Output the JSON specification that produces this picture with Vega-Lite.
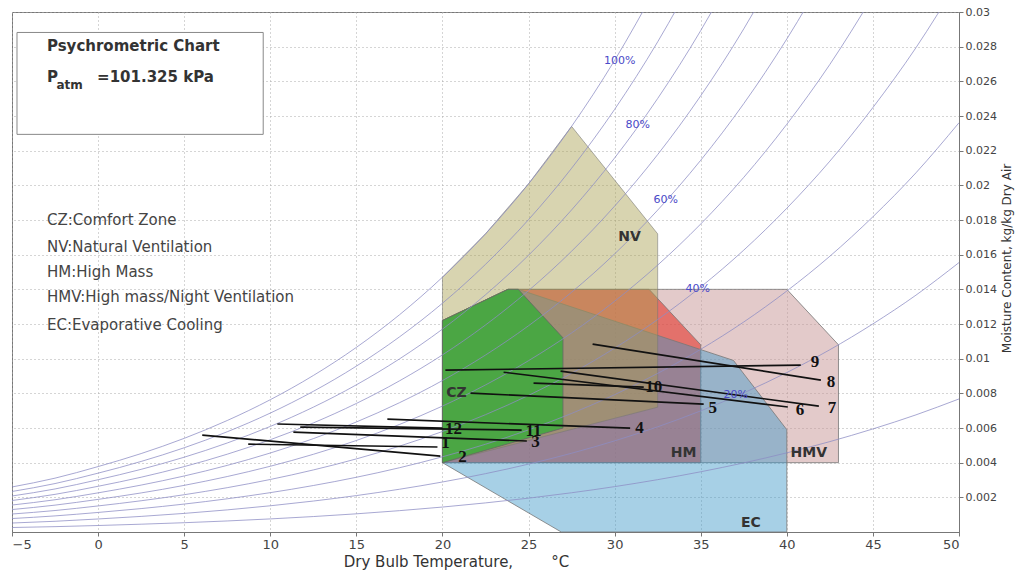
{
  "$schema": "https://vega.github.io/schema/vega-lite/v6.json",
  "width": 947,
  "height": 520,
  "autosize": {"type": "none"},
  "padding": {"left": 12, "top": 12, "right": 60, "bottom": 42},
  "background": "white",
  "config": {
    "font": "DejaVu Sans",
    "view": {"stroke": "#777", "strokeWidth": 1}
  },
  "datasets": {
    "zones": [
      {"z": "HMV", "i": 0, "t": 20, "w": 0.004}, {"z": "HMV", "i": 1, "t": 20, "w": 0.0122}, {"z": "HMV", "i": 2, "t": 23.8, "w": 0.014}, {"z": "HMV", "i": 3, "t": 40, "w": 0.014}, {"z": "HMV", "i": 4, "t": 43, "w": 0.0108}, {"z": "HMV", "i": 5, "t": 43, "w": 0.004}, {"z": "HMV", "i": 6, "t": 20, "w": 0.004},
      {"z": "HM", "i": 0, "t": 20, "w": 0.004}, {"z": "HM", "i": 1, "t": 20, "w": 0.0122}, {"z": "HM", "i": 2, "t": 23.8, "w": 0.014}, {"z": "HM", "i": 3, "t": 32, "w": 0.014}, {"z": "HM", "i": 4, "t": 35, "w": 0.0108}, {"z": "HM", "i": 5, "t": 35, "w": 0.004}, {"z": "HM", "i": 6, "t": 20, "w": 0.004},
      {"z": "EC", "i": 0, "t": 20, "w": 0.004}, {"z": "EC", "i": 1, "t": 20, "w": 0.0122}, {"z": "EC", "i": 2, "t": 23.8, "w": 0.014}, {"z": "EC", "i": 3, "t": 24.4, "w": 0.014}, {"z": "EC", "i": 4, "t": 36.9, "w": 0.0099}, {"z": "EC", "i": 5, "t": 40, "w": 0.0059}, {"z": "EC", "i": 6, "t": 40, "w": 0}, {"z": "EC", "i": 7, "t": 26.9, "w": 0}, {"z": "EC", "i": 8, "t": 20, "w": 0.004},
      {"z": "NV", "i": 0, "t": 20, "w": 0.004}, {"z": "NV", "i": 1, "t": 20, "w": 0.014699}, {"z": "NV", "i": 2, "t": 22.5, "w": 0.017203}, {"z": "NV", "i": 3, "t": 25, "w": 0.020087}, {"z": "NV", "i": 4, "t": 27.5, "w": 0.023402}, {"z": "NV", "i": 5, "t": 32.5, "w": 0.0172}, {"z": "NV", "i": 6, "t": 32.5, "w": 0.0072}, {"z": "NV", "i": 7, "t": 20, "w": 0.004},
      {"z": "CZ", "i": 0, "t": 20, "w": 0.004}, {"z": "CZ", "i": 1, "t": 20, "w": 0.0122}, {"z": "CZ", "i": 2, "t": 23.8, "w": 0.014}, {"z": "CZ", "i": 3, "t": 24.4, "w": 0.014}, {"z": "CZ", "i": 4, "t": 27, "w": 0.0112}, {"z": "CZ", "i": 5, "t": 27, "w": 0.006}, {"z": "CZ", "i": 6, "t": 20, "w": 0.004}
    ],
    "rh": [
      {"rh": 10, "t": -5, "w": 0.000259}, {"rh": 10, "t": -2.5, "w": 0.000309}, {"rh": 10, "t": 0, "w": 0.000375}, {"rh": 10, "t": 2.5, "w": 0.00045}, {"rh": 10, "t": 5, "w": 0.000536}, {"rh": 10, "t": 7.5, "w": 0.000637}, {"rh": 10, "t": 10, "w": 0.000755}, {"rh": 10, "t": 12.5, "w": 0.000891}, {"rh": 10, "t": 15, "w": 0.001049}, {"rh": 10, "t": 17.5, "w": 0.001231}, {"rh": 10, "t": 20, "w": 0.001439}, {"rh": 10, "t": 22.5, "w": 0.001679}, {"rh": 10, "t": 25, "w": 0.001952}, {"rh": 10, "t": 27.5, "w": 0.002264}, {"rh": 10, "t": 30, "w": 0.002618}, {"rh": 10, "t": 32.5, "w": 0.00302}, {"rh": 10, "t": 35, "w": 0.003475}, {"rh": 10, "t": 37.5, "w": 0.003987}, {"rh": 10, "t": 40, "w": 0.004567}, {"rh": 10, "t": 42.5, "w": 0.005215}, {"rh": 10, "t": 45, "w": 0.005946}, {"rh": 10, "t": 47.5, "w": 0.006758}, {"rh": 10, "t": 50, "w": 0.007676},
      {"rh": 20, "t": -5, "w": 0.000518}, {"rh": 20, "t": -2.5, "w": 0.000619}, {"rh": 20, "t": 0, "w": 0.000751}, {"rh": 20, "t": 2.5, "w": 0.0009}, {"rh": 20, "t": 5, "w": 0.001073}, {"rh": 20, "t": 7.5, "w": 0.001276}, {"rh": 20, "t": 10, "w": 0.001512}, {"rh": 20, "t": 12.5, "w": 0.001785}, {"rh": 20, "t": 15, "w": 0.002101}, {"rh": 20, "t": 17.5, "w": 0.002466}, {"rh": 20, "t": 20, "w": 0.002885}, {"rh": 20, "t": 22.5, "w": 0.003366}, {"rh": 20, "t": 25, "w": 0.003916}, {"rh": 20, "t": 27.5, "w": 0.004544}, {"rh": 20, "t": 30, "w": 0.005258}, {"rh": 20, "t": 32.5, "w": 0.00607}, {"rh": 20, "t": 35, "w": 0.006989}, {"rh": 20, "t": 37.5, "w": 0.008026}, {"rh": 20, "t": 40, "w": 0.009201}, {"rh": 20, "t": 42.5, "w": 0.010517}, {"rh": 20, "t": 45, "w": 0.012007}, {"rh": 20, "t": 47.5, "w": 0.013664}, {"rh": 20, "t": 50, "w": 0.015544},
      {"rh": 30, "t": -5, "w": 0.000777}, {"rh": 30, "t": -2.5, "w": 0.000929}, {"rh": 30, "t": 0, "w": 0.001128}, {"rh": 30, "t": 2.5, "w": 0.001351}, {"rh": 30, "t": 5, "w": 0.001611}, {"rh": 30, "t": 7.5, "w": 0.001916}, {"rh": 30, "t": 10, "w": 0.00227}, {"rh": 30, "t": 12.5, "w": 0.002681}, {"rh": 30, "t": 15, "w": 0.003157}, {"rh": 30, "t": 17.5, "w": 0.003706}, {"rh": 30, "t": 20, "w": 0.004338}, {"rh": 30, "t": 22.5, "w": 0.005063}, {"rh": 30, "t": 25, "w": 0.005893}, {"rh": 30, "t": 27.5, "w": 0.00684}, {"rh": 30, "t": 30, "w": 0.007921}, {"rh": 30, "t": 32.5, "w": 0.009149}, {"rh": 30, "t": 35, "w": 0.010542}, {"rh": 30, "t": 37.5, "w": 0.012117}, {"rh": 30, "t": 40, "w": 0.013904}, {"rh": 30, "t": 42.5, "w": 0.01591}, {"rh": 30, "t": 45, "w": 0.018187}, {"rh": 30, "t": 47.5, "w": 0.020723}, {"rh": 30, "t": 50, "w": 0.023611},
      {"rh": 40, "t": -5, "w": 0.001037}, {"rh": 40, "t": -2.5, "w": 0.001239}, {"rh": 40, "t": 0, "w": 0.001504}, {"rh": 40, "t": 2.5, "w": 0.001802}, {"rh": 40, "t": 5, "w": 0.00215}, {"rh": 40, "t": 7.5, "w": 0.002557}, {"rh": 40, "t": 10, "w": 0.00303}, {"rh": 40, "t": 12.5, "w": 0.00358}, {"rh": 40, "t": 15, "w": 0.004217}, {"rh": 40, "t": 17.5, "w": 0.004952}, {"rh": 40, "t": 20, "w": 0.005798}, {"rh": 40, "t": 22.5, "w": 0.006769}, {"rh": 40, "t": 25, "w": 0.007882}, {"rh": 40, "t": 27.5, "w": 0.009154}, {"rh": 40, "t": 30, "w": 0.010606}, {"rh": 40, "t": 32.5, "w": 0.012259}, {"rh": 40, "t": 35, "w": 0.014136}, {"rh": 40, "t": 37.5, "w": 0.016262}, {"rh": 40, "t": 40, "w": 0.018678}, {"rh": 40, "t": 42.5, "w": 0.021396}, {"rh": 40, "t": 45, "w": 0.024488}, {"rh": 40, "t": 47.5, "w": 0.027941}, {"rh": 40, "t": 50, "w": 0.031885},
      {"rh": 50, "t": -5, "w": 0.001296}, {"rh": 50, "t": -2.5, "w": 0.00155}, {"rh": 50, "t": 0, "w": 0.001882}, {"rh": 50, "t": 2.5, "w": 0.002254}, {"rh": 50, "t": 5, "w": 0.00269}, {"rh": 50, "t": 7.5, "w": 0.0032}, {"rh": 50, "t": 10, "w": 0.003793}, {"rh": 50, "t": 12.5, "w": 0.004482}, {"rh": 50, "t": 15, "w": 0.00528}, {"rh": 50, "t": 17.5, "w": 0.006202}, {"rh": 50, "t": 20, "w": 0.007264}, {"rh": 50, "t": 22.5, "w": 0.008484}, {"rh": 50, "t": 25, "w": 0.009884}, {"rh": 50, "t": 27.5, "w": 0.011485}, {"rh": 50, "t": 30, "w": 0.013315}, {"rh": 50, "t": 32.5, "w": 0.015399}, {"rh": 50, "t": 35, "w": 0.017771}, {"rh": 50, "t": 37.5, "w": 0.020461}, {"rh": 50, "t": 40, "w": 0.023524}, {"rh": 50, "t": 42.5, "w": 0.026977}, {"rh": 50, "t": 45, "w": 0.030914},
      {"rh": 60, "t": -5, "w": 0.001556}, {"rh": 60, "t": -2.5, "w": 0.00186}, {"rh": 60, "t": 0, "w": 0.002259}, {"rh": 60, "t": 2.5, "w": 0.002707}, {"rh": 60, "t": 5, "w": 0.003231}, {"rh": 60, "t": 7.5, "w": 0.003843}, {"rh": 60, "t": 10, "w": 0.004557}, {"rh": 60, "t": 12.5, "w": 0.005386}, {"rh": 60, "t": 15, "w": 0.006347}, {"rh": 60, "t": 17.5, "w": 0.007457}, {"rh": 60, "t": 20, "w": 0.008737}, {"rh": 60, "t": 22.5, "w": 0.010209}, {"rh": 60, "t": 25, "w": 0.011899}, {"rh": 60, "t": 27.5, "w": 0.013833}, {"rh": 60, "t": 30, "w": 0.016046}, {"rh": 60, "t": 32.5, "w": 0.018571}, {"rh": 60, "t": 35, "w": 0.021448}, {"rh": 60, "t": 37.5, "w": 0.024716}, {"rh": 60, "t": 40, "w": 0.028444}, {"rh": 60, "t": 42.5, "w": 0.032656},
      {"rh": 70, "t": -5, "w": 0.001817}, {"rh": 70, "t": -2.5, "w": 0.002172}, {"rh": 70, "t": 0, "w": 0.002637}, {"rh": 70, "t": 2.5, "w": 0.003161}, {"rh": 70, "t": 5, "w": 0.003772}, {"rh": 70, "t": 7.5, "w": 0.004489}, {"rh": 70, "t": 10, "w": 0.005323}, {"rh": 70, "t": 12.5, "w": 0.006292}, {"rh": 70, "t": 15, "w": 0.007417}, {"rh": 70, "t": 17.5, "w": 0.008718}, {"rh": 70, "t": 20, "w": 0.010217}, {"rh": 70, "t": 22.5, "w": 0.011943}, {"rh": 70, "t": 25, "w": 0.013926}, {"rh": 70, "t": 27.5, "w": 0.016199}, {"rh": 70, "t": 30, "w": 0.018801}, {"rh": 70, "t": 32.5, "w": 0.021775}, {"rh": 70, "t": 35, "w": 0.025167}, {"rh": 70, "t": 37.5, "w": 0.029028}, {"rh": 70, "t": 40, "w": 0.03344},
      {"rh": 80, "t": -5, "w": 0.002077}, {"rh": 80, "t": -2.5, "w": 0.002483}, {"rh": 80, "t": 0, "w": 0.003016}, {"rh": 80, "t": 2.5, "w": 0.003615}, {"rh": 80, "t": 5, "w": 0.004315}, {"rh": 80, "t": 7.5, "w": 0.005135}, {"rh": 80, "t": 10, "w": 0.006091}, {"rh": 80, "t": 12.5, "w": 0.007202}, {"rh": 80, "t": 15, "w": 0.008491}, {"rh": 80, "t": 17.5, "w": 0.009983}, {"rh": 80, "t": 20, "w": 0.011704}, {"rh": 80, "t": 22.5, "w": 0.013687}, {"rh": 80, "t": 25, "w": 0.015967}, {"rh": 80, "t": 27.5, "w": 0.018582}, {"rh": 80, "t": 30, "w": 0.021581}, {"rh": 80, "t": 32.5, "w": 0.025011}, {"rh": 80, "t": 35, "w": 0.02893}, {"rh": 80, "t": 37.5, "w": 0.033397},
      {"rh": 90, "t": -5, "w": 0.002337}, {"rh": 90, "t": -2.5, "w": 0.002795}, {"rh": 90, "t": 0, "w": 0.003395}, {"rh": 90, "t": 2.5, "w": 0.00407}, {"rh": 90, "t": 5, "w": 0.004859}, {"rh": 90, "t": 7.5, "w": 0.005783}, {"rh": 90, "t": 10, "w": 0.00686}, {"rh": 90, "t": 12.5, "w": 0.008114}, {"rh": 90, "t": 15, "w": 0.009569}, {"rh": 90, "t": 17.5, "w": 0.011253}, {"rh": 90, "t": 20, "w": 0.013198}, {"rh": 90, "t": 22.5, "w": 0.01544}, {"rh": 90, "t": 25, "w": 0.018021}, {"rh": 90, "t": 27.5, "w": 0.020983}, {"rh": 90, "t": 30, "w": 0.024383}, {"rh": 90, "t": 32.5, "w": 0.028279}, {"rh": 90, "t": 35, "w": 0.032736},
      {"rh": 100, "t": -5, "w": 0.002598}, {"rh": 100, "t": -2.5, "w": 0.003107}, {"rh": 100, "t": 0, "w": 0.003775}, {"rh": 100, "t": 2.5, "w": 0.004525}, {"rh": 100, "t": 5, "w": 0.005403}, {"rh": 100, "t": 7.5, "w": 0.006432}, {"rh": 100, "t": 10, "w": 0.007632}, {"rh": 100, "t": 12.5, "w": 0.009028}, {"rh": 100, "t": 15, "w": 0.010651}, {"rh": 100, "t": 17.5, "w": 0.012529}, {"rh": 100, "t": 20, "w": 0.014699}, {"rh": 100, "t": 22.5, "w": 0.017203}, {"rh": 100, "t": 25, "w": 0.020087}, {"rh": 100, "t": 27.5, "w": 0.023402}, {"rh": 100, "t": 30, "w": 0.027212}, {"rh": 100, "t": 32.5, "w": 0.031581}
    ],
    "paths": [
      {"id": "1", "t": 8.72, "w": 0.00507}, {"id": "1", "t": 19.71, "w": 0.0049},
      {"id": "2", "t": 6.05, "w": 0.00559}, {"id": "2", "t": 19.88, "w": 0.00438},
      {"id": "3", "t": 11.34, "w": 0.00576}, {"id": "3", "t": 24.9, "w": 0.00525},
      {"id": "11", "t": 11.74, "w": 0.00605}, {"id": "11", "t": 24.6, "w": 0.00588},
      {"id": "12", "t": 10.41, "w": 0.00623}, {"id": "12", "t": 20.0, "w": 0.00599},
      {"id": "4", "t": 16.8, "w": 0.00651}, {"id": "4", "t": 30.9, "w": 0.00599},
      {"id": "5", "t": 21.63, "w": 0.00801}, {"id": "5", "t": 35.17, "w": 0.00738},
      {"id": "10", "t": 25.29, "w": 0.00859}, {"id": "10", "t": 31.69, "w": 0.00836},
      {"id": "6", "t": 23.55, "w": 0.00922}, {"id": "6", "t": 40.06, "w": 0.00721},
      {"id": "7", "t": 26.86, "w": 0.00928}, {"id": "7", "t": 41.86, "w": 0.00726},
      {"id": "8", "t": 28.72, "w": 0.01084}, {"id": "8", "t": 41.98, "w": 0.00876},
      {"id": "9", "t": 20.17, "w": 0.00934}, {"id": "9", "t": 40.81, "w": 0.00963}
    ],
    "numlabels": [
      {"id": "1", "t": 20.17, "w": 0.00513}, {"id": "2", "t": 21.16, "w": 0.00432}, {"id": "3", "t": 25.41, "w": 0.00522},
      {"id": "11", "t": 25.29, "w": 0.00584}, {"id": "12", "t": 20.64, "w": 0.00594}, {"id": "4", "t": 31.45, "w": 0.00599},
      {"id": "5", "t": 35.7, "w": 0.00715}, {"id": "10", "t": 32.27, "w": 0.00836}, {"id": "6", "t": 40.76, "w": 0.00703},
      {"id": "7", "t": 42.62, "w": 0.00715}, {"id": "8", "t": 42.56, "w": 0.00865}, {"id": "9", "t": 41.63, "w": 0.0098}
    ],
    "rhlabels": [
      {"txt": "100%", "t": 30.29, "w": 0.0272}, {"txt": "80%", "t": 31.34, "w": 0.02346}, {"txt": "60%", "t": 32.97, "w": 0.01914},
      {"txt": "40%", "t": 34.83, "w": 0.0140}, {"txt": "20%", "t": 37.03, "w": 0.0079}
    ],
    "zonelabels": [
      {"txt": "CZ", "t": 20.81, "w": 0.00801}, {"txt": "NV", "t": 30.87, "w": 0.017}, {"txt": "HM", "t": 34.01, "w": 0.00455},
      {"txt": "HMV", "t": 41.28, "w": 0.00455}, {"txt": "EC", "t": 37.91, "w": 0.00052}
    ],
    "notes": [
      {"txt": "CZ:Comfort Zone", "t": -2.97, "w": 0.01799}, {"txt": "NV:Natural Ventilation", "t": -2.97, "w": 0.01643},
      {"txt": "HM:High Mass", "t": -2.97, "w": 0.01499}, {"txt": "HMV:High mass/Night Ventilation", "t": -2.97, "w": 0.01355},
      {"txt": "EC:Evaporative Cooling", "t": -2.97, "w": 0.01193}
    ],
    "box": [{"t": -4.71, "t2": 9.59, "w": 0.02882, "w2": 0.02294}],
    "boxtext": [
      {"txt": "Psychrometric Chart", "t": -2.97, "w": 0.02801},
      {"txt": "P", "t": -2.97, "w": 0.02623},
      {"txt": "=101.325 kPa", "t": -0.06, "w": 0.02623}
    ],
    "sub": [{"txt": "atm", "t": -2.42, "w": 0.02578}]
  },
  "encoding": {
    "x": {
      "field": "t", "type": "quantitative",
      "scale": {"domain": [-5, 50], "nice": false, "zero": false},
      "axis": {
        "orient": "bottom", "values": [-5, 0, 5, 10, 15, 20, 25, 30, 35, 40, 45, 50], "format": "d",
        "title": "Dry Bulb Temperature,\u00a0\u00a0\u00a0\u00a0\u00a0\u00a0\u00a0\u00a0°C", "titleFont": "DejaVu Sans", "titleFontWeight": "normal", "titleFontSize": 15, "titleColor": "#333", "titleX": 444, "titlePadding": 3,
        "labelFont": "DejaVu Sans", "labelFontSize": 13, "labelColor": "#444", "tickColor": "#777", "domainColor": "#777", "tickSize": 4,
        "grid": true, "gridDash": [1, 3], "gridColor": "#aaa", "gridWidth": 1
      }
    },
    "y": {
      "field": "w", "type": "quantitative",
      "scale": {"domain": [0, 0.03], "nice": false, "zero": false},
      "axis": {
        "orient": "right", "values": [0.002, 0.004, 0.006, 0.008, 0.01, 0.012, 0.014, 0.016, 0.018, 0.02, 0.022, 0.024, 0.026, 0.028, 0.03], "format": "~g",
        "title": "Moisture Content, kg/kg Dry Air", "titleFont": "DejaVu Sans", "titleFontWeight": "normal", "titleFontSize": 12, "titleColor": "#333", "titleAngle": 270, "titleBaseline": "top", "titlePadding": 5, "titleY": 246,
        "labelFont": "DejaVu Sans", "labelFontSize": 11, "labelColor": "#444", "tickColor": "#777", "domainColor": "#777", "tickSize": 4,
        "grid": true, "gridDash": [1, 3], "gridColor": "#aaa", "gridWidth": 1
      }
    }
  },
  "layer": [
    {"data": {"name": "zones"}, "transform": [{"filter": "datum.z === 'HMV'"}],
     "mark": {"type": "line", "fill": "#c89696", "fillOpacity": 0.5, "stroke": "#777", "strokeWidth": 0.8},
     "encoding": {"order": {"field": "i", "type": "quantitative"}}},
    {"data": {"name": "zones"}, "transform": [{"filter": "datum.z === 'HM'"}],
     "mark": {"type": "line", "fill": "#e4281e", "fillOpacity": 0.55, "stroke": "#777", "strokeWidth": 0.8},
     "encoding": {"order": {"field": "i", "type": "quantitative"}}},
    {"data": {"name": "zones"}, "transform": [{"filter": "datum.z === 'EC'"}],
     "mark": {"type": "line", "fill": "#3c96c8", "fillOpacity": 0.45, "stroke": "#777", "strokeWidth": 0.8},
     "encoding": {"order": {"field": "i", "type": "quantitative"}}},
    {"data": {"name": "zones"}, "transform": [{"filter": "datum.z === 'NV'"}],
     "mark": {"type": "line", "fill": "#a8a050", "fillOpacity": 0.45, "stroke": "#777", "strokeWidth": 0.8, "strokeOpacity": 0.7},
     "encoding": {"order": {"field": "i", "type": "quantitative"}}},
    {"data": {"name": "zones"}, "transform": [{"filter": "datum.z === 'CZ'"}],
     "mark": {"type": "line", "fill": "#3caa3c", "fillOpacity": 0.85, "stroke": "#666", "strokeWidth": 0.8},
     "encoding": {"order": {"field": "i", "type": "quantitative"}}},
    {"data": {"name": "rh"},
     "mark": {"type": "line", "interpolate": "monotone", "clip": true, "stroke": "#8c8cc4", "strokeWidth": 0.9, "strokeOpacity": 0.85},
     "encoding": {"detail": {"field": "rh", "type": "nominal"}}},
    {"data": {"name": "paths"},
     "mark": {"type": "line", "stroke": "#111", "strokeWidth": 1.6},
     "encoding": {"detail": {"field": "id", "type": "nominal"}}},
    {"data": {"name": "numlabels"},
     "mark": {"type": "text", "font": "Liberation Serif", "fontSize": 17, "fontWeight": "bold", "fill": "#111", "align": "center", "baseline": "middle"},
     "encoding": {"text": {"field": "id"}}},
    {"data": {"name": "rhlabels"},
     "mark": {"type": "text", "font": "DejaVu Sans", "fontSize": 11, "fill": "#4a4ac8", "align": "center", "baseline": "middle"},
     "encoding": {"text": {"field": "txt"}}},
    {"data": {"name": "zonelabels"},
     "mark": {"type": "text", "font": "DejaVu Sans", "fontSize": 14, "fontWeight": "bold", "fill": "#333", "align": "center", "baseline": "middle"},
     "encoding": {"text": {"field": "txt"}}},
    {"data": {"name": "notes"},
     "mark": {"type": "text", "font": "DejaVu Sans", "fontSize": 15, "fill": "#444", "align": "left", "baseline": "middle"},
     "encoding": {"text": {"field": "txt"}}},
    {"data": {"name": "box"},
     "mark": {"type": "rect", "fill": "white", "stroke": "#888", "strokeWidth": 1},
     "encoding": {"x2": {"field": "t2"}, "y2": {"field": "w2"}}},
    {"data": {"name": "boxtext"},
     "mark": {"type": "text", "font": "DejaVu Sans", "fontSize": 15, "fontWeight": "bold", "fill": "#333", "align": "left", "baseline": "middle"},
     "encoding": {"text": {"field": "txt"}}},
    {"data": {"name": "sub"},
     "mark": {"type": "text", "font": "DejaVu Sans", "fontSize": 12, "fontWeight": "bold", "fill": "#333", "align": "left", "baseline": "middle"},
     "encoding": {"text": {"field": "txt"}}}
  ]
}
